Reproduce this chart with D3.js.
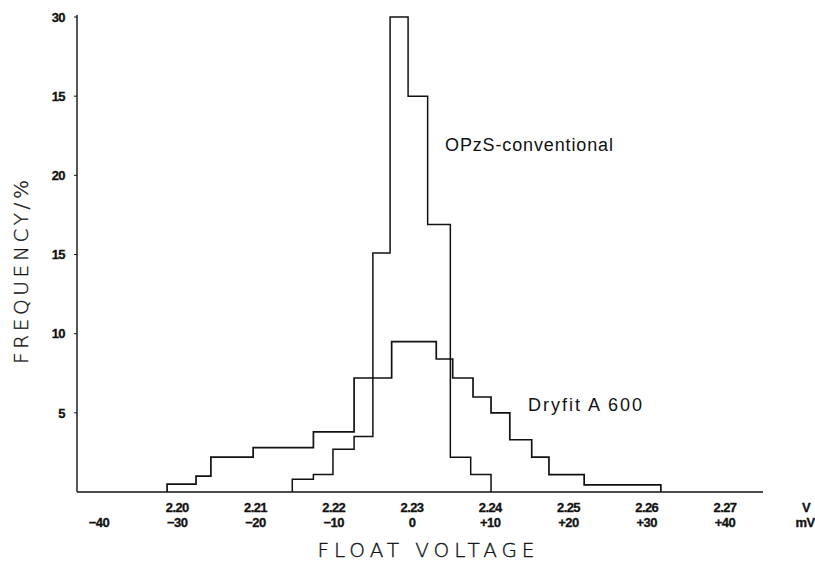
<!DOCTYPE html>
<html>
<head>
<meta charset="utf-8">
<script src="https://cdn.jsdelivr.net/npm/d3@7"></script>
<style>
  html, body { margin: 0; padding: 0; background: #fff; }
  svg { display: block; }
</style>
</head>
<body>
<div id="chart"></div>
<script>
// ---- Data ----
// Bin edges in mV relative to 2.23 V, and frequency (%) per bin
const opzsEdges  = [-15.3, -12.6, -10.1, -7.4, -5.0, -2.8, -0.5, 2.0, 4.9, 7.5, 10.1];
const opzsValues = [0.8, 1.1, 2.7, 3.5, 15.1, 30, 25, 16.9, 2.2, 1.1];

const dryEdges  = [-31.3, -27.6, -25.7, -20.3, -12.6, -7.4, -2.6, 3.1, 5.2, 7.8, 10.1, 12.5, 15.3, 17.5, 22.0, 31.8];
const dryValues = [0.5, 1.0, 2.2, 2.8, 3.8, 7.2, 9.5, 8.4, 7.2, 6.0, 5.0, 3.3, 2.2, 1.1, 0.45];

// Axis ticks (labels as printed in the original)
const yTickValues = [5, 10, 15, 20, 25, 30];
const yTickLabels = ["5", "10", "15", "20", "15", "30"];
const xTickValues = [-40, -30, -20, -10, 0, 10, 20, 30, 40];
const xVoltLabels = ["", "2.20", "2.21", "2.22", "2.23", "2.24", "2.25", "2.26", "2.27"];
const xMvLabels   = ["\u221240", "\u221230", "\u221220", "\u221210", "0", "+10", "+20", "+30", "+40"];
const seriesNames = ["OPzS-conventional", "Dryfit A 600"];

// ---- Layout ----
const W = 815, H = 562;
const svg = d3.select("#chart").append("svg").attr("width", W).attr("height", H);

const x = d3.scaleLinear().domain([-40, 40]).range([99, 725]);
const y = d3.scaleLinear().domain([0, 30]).range([492, 17]);

const ink = "#111";

// axes lines
const xMin = x.invert(77), xMax = x.invert(763);
svg.append("line")
  .attr("x1", x(xMin)).attr("x2", x(xMin))
  .attr("y1", y(0)).attr("y2", y(30) - 2)
  .attr("stroke", ink).attr("stroke-width", 1.4);
svg.append("line")
  .attr("x1", x(xMin)).attr("x2", x(xMax))
  .attr("y1", y(0)).attr("y2", y(0))
  .attr("stroke", ink).attr("stroke-width", 1.6);

// y ticks
const yt = svg.append("g");
yt.selectAll("line").data(yTickValues).join("line")
  .attr("x1", x(xMin) - 3).attr("x2", x(xMin))
  .attr("y1", d => y(d)).attr("y2", d => y(d))
  .attr("stroke", ink).attr("stroke-width", 1);
yt.selectAll("text").data(yTickValues).join("text")
  .attr("x", 65).attr("y", d => y(d))
  .attr("dy", "0.36em")
  .attr("text-anchor", "end")
  .attr("font-family", "Liberation Sans, Arial, sans-serif")
  .attr("font-weight", "bold")
  .attr("font-size", 13)
  .attr("letter-spacing", -0.6)
  .attr("stroke", ink).attr("stroke-width", 0.3)
  .attr("fill", ink)
  .text((d, i) => yTickLabels[i]);

// x tick labels (two rows)
const xt = svg.append("g")
  .attr("font-family", "Liberation Sans, Arial, sans-serif")
  .attr("font-weight", "bold")
  .attr("font-size", 13)
  .attr("letter-spacing", -0.6)
  .attr("fill", ink)
  .attr("stroke", ink).attr("stroke-width", 0.3)
  .attr("text-anchor", "middle");
xt.selectAll("text.v").data(xTickValues).join("text").attr("class", "v")
  .attr("x", d => x(d)).attr("y", 512)
  .text((d, i) => xVoltLabels[i]);
xt.selectAll("text.mv").data(xTickValues).join("text").attr("class", "mv")
  .attr("x", d => x(d)).attr("y", 527)
  .text((d, i) => xMvLabels[i]);
xt.append("text").attr("x", 806).attr("y", 512).text("V");
xt.append("text").attr("x", 805).attr("y", 527).text("mV");

// axis titles
svg.append("text")
  .attr("transform", "translate(28,272) rotate(-90)")
  .attr("text-anchor", "middle")
  .attr("font-family", "DejaVu Sans, sans-serif")
  .attr("font-weight", 200)
  .attr("font-size", 20)
  .attr("textLength", 184)
  .attr("lengthAdjust", "spacing")
  .attr("fill", ink)
  .attr("stroke", ink).attr("stroke-width", 0.35)
  .text("FREQUENCY/%");
svg.append("text")
  .attr("x", 426).attr("y", 557)
  .attr("text-anchor", "middle")
  .attr("font-family", "DejaVu Sans, sans-serif")
  .attr("font-weight", 200)
  .attr("font-size", 20)
  .attr("textLength", 217)
  .attr("lengthAdjust", "spacing")
  .attr("fill", ink)
  .attr("stroke", ink).attr("stroke-width", 0.35)
  .text("FLOAT VOLTAGE");

// histograms as step outlines
function stepPoints(edges, values) {
  const pts = [[edges[0], 0]];
  values.forEach((v, i) => {
    pts.push([edges[i], v]);
    pts.push([edges[i + 1], v]);
  });
  pts.push([edges[edges.length - 1], 0]);
  return pts;
}
const line = d3.line().x(d => x(d[0])).y(d => y(d[1]));

svg.append("path")
  .attr("d", line(stepPoints(dryEdges, dryValues)))
  .attr("fill", "none").attr("stroke", ink).attr("stroke-width", 1.7)
  .attr("stroke-linejoin", "miter");
svg.append("path")
  .attr("d", line(stepPoints(opzsEdges, opzsValues)))
  .attr("fill", "none").attr("stroke", ink).attr("stroke-width", 1.5)
  .attr("stroke-linejoin", "miter");

// series labels
const lab = svg.append("g")
  .attr("font-family", "Liberation Sans, Arial, sans-serif")
  .attr("font-size", 18)
  .attr("fill", ink);
lab.append("text").attr("x", 445).attr("y", 151)
  .attr("textLength", 168).attr("lengthAdjust", "spacing")
  .text(seriesNames[0]);
lab.append("text").attr("x", 528).attr("y", 411)
  .attr("textLength", 114).attr("lengthAdjust", "spacing")
  .text(seriesNames[1]);
</script>
</body>
</html>
